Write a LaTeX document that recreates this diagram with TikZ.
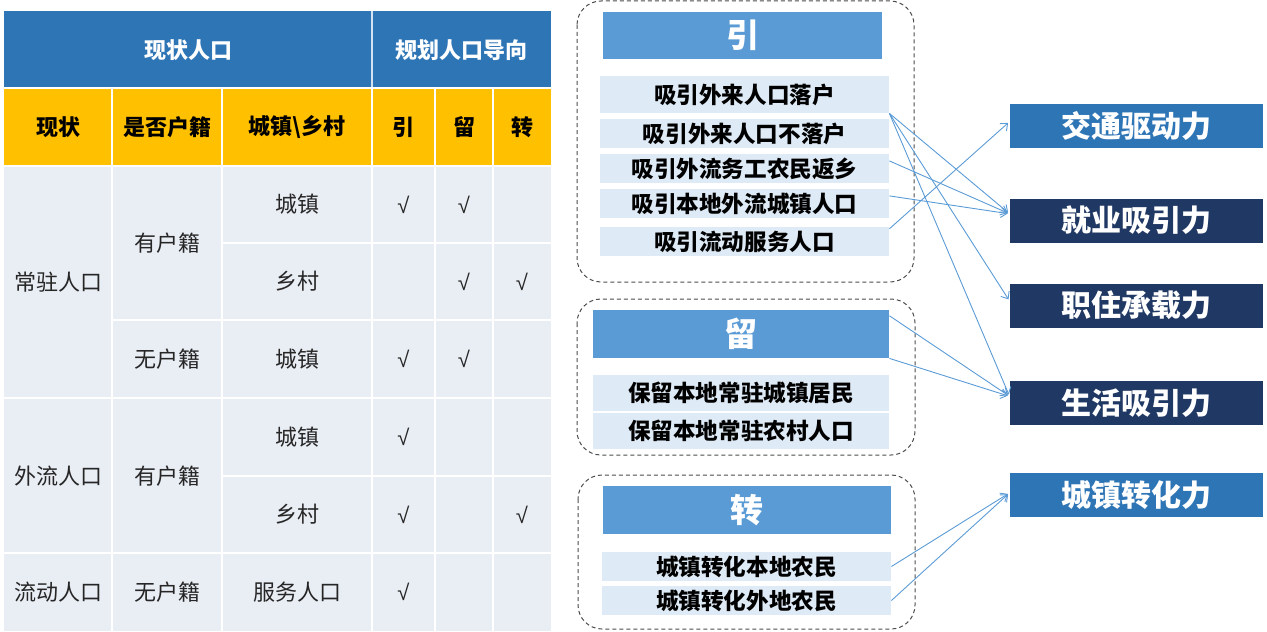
\documentclass[tikz,border=0pt]{standalone}
\usepackage{fontspec}
\setmainfont{Noto Sans CJK SC}
\newfontfamily\tickfont{Liberation Sans}
\usetikzlibrary{arrows.meta}
\definecolor{hdrblue}{HTML}{2E75B6}
\definecolor{hdryellow}{HTML}{FFC000}
\definecolor{cellgray}{HTML}{E9EDF4}
\definecolor{titleblue}{HTML}{5B9BD5}
\definecolor{itemblue}{HTML}{DEEAF6}
\definecolor{navy}{HTML}{203864}
\definecolor{linkblue}{HTML}{5B9BD5}
\tikzset{
  cell/.style={font=\fontsize{11}{13}\selectfont, text=black!85},
  headcell/.style={font=\fontsize{11}{13}\selectfont\bfseries},
  groupbox/.style={draw=black!70, line width=0.5pt, dash pattern=on 2pt off 1.5pt, rounded corners=12pt},
  titlebox/.style={fill=titleblue, text=white, font=\fontsize{16.5}{18}\selectfont\bfseries, inner sep=0pt},
  itembox/.style={fill=itemblue, text=black, font=\fontsize{11.3}{13}\selectfont\bfseries, inner sep=0pt, minimum height=14.5pt},
  forcebox/.style={text=white, font=\fontsize{15}{17}\selectfont\bfseries, inner sep=0pt, minimum width=126.5pt, minimum height=22pt},
  link/.style={draw=linkblue, line width=0.45pt, -{Straight Barb[length=3pt,width=5pt]}, shorten >=1pt}
}
\begin{document}
\begin{tikzpicture}[x=0.5pt, y=-0.5pt]
  \useasboundingbox (0,0) rectangle (1267,631);
  \fill[hdrblue] (4,11) rectangle (551,88);
  \fill[hdryellow] (4,88) rectangle (551,166);
  \fill[cellgray] (4,166) rectangle (551,631);
  \draw[white!80!hdrblue, line width=0.6pt] (372,11) -- (372,88);
  \draw[white, line width=0.6pt] (4,88) -- (551,88);
  \foreach \x in {112,222,372,435,493}
    \draw[white, line width=0.7pt] (\x,88) -- (\x,631);
  \foreach \y/\xa in {166/4, 243/222, 320/112, 398/4, 476/222, 553/4}
    \draw[white, line width=0.7pt] (\xa,\y) -- (551,\y);
  \node[headcell, text=white] (hpop) at (188,50) {现状人口};
  \node[headcell, text=white] (hplan) at (461.5,50) {规划人口导向};
  \foreach \x/\lab/\nm in {58/现状/hs, 167/是否户籍/hh, 297/{城镇\textbackslash 乡村}/hc, 403.5/引/hy, 464/留/hl, 522/转/hz}
    \node[headcell] (\nm) at (\x,127) {\lab};
  \node[cell] (p1) at (58,282) {常驻人口};
  \node[cell] (p2) at (58,476) {外流人口};
  \node[cell] (p3) at (58,592) {流动人口};
  \foreach \y/\lab [count=\i] in {243/有户籍, 359/无户籍, 476/有户籍, 592/无户籍}
    \node[cell] (reg\i) at (167,\y) {\lab};
  \foreach \y/\lab [count=\i] in {204.5/城镇, 281.5/乡村, 359/城镇, 437/城镇, 514.5/乡村, 592/服务人口}
    \node[cell] (area\i) at (297,\y) {\lab};
  \foreach \x/\y [count=\i] in {403.5/204.5, 464/204.5, 464/281.5, 522/281.5, 403.5/359, 464/359,
                               403.5/437, 403.5/514.5, 522/514.5, 403.5/592}
    \node[cell, font=\tickfont\fontsize{11}{13}\selectfont] (chk\i) at (\x,\y) {√};

  \draw[groupbox] (577,1) rectangle (914,282);
  \node[titlebox, minimum width=139.5pt, minimum height=23.5pt] (yin) at (742.5,35.5) {引};
  \node[itembox, minimum width=144.5pt, minimum height=18.5pt] (yin1) at (744.5,94.5) {吸引外来人口落户};
  \foreach \y/\lab [count=\i from 2] in {133.5/吸引外来人口不落户, 168.5/吸引外流务工农民返乡,
                                         203.5/吸引本地外流城镇人口, 241.5/吸引流动服务人口}
    \node[itembox, minimum width=144.5pt] (yin\i) at (744.5,\y) {\lab};

  \draw[groupbox] (577,299) rectangle (915,455);
  \node[titlebox, minimum width=148pt, minimum height=24pt] (liu) at (741,334) {留};
  \node[itembox, minimum width=148pt, minimum height=18pt] (liu1) at (741,393) {保留本地常驻城镇居民};
  \node[itembox, minimum width=148pt, minimum height=18pt] (liu2) at (741,431) {保留本地常驻农村人口};

  \draw[groupbox] (578,475) rectangle (915,629);
  \node[titlebox, minimum width=144pt, minimum height=24pt] (zhuan) at (747,510) {转};
  \node[itembox, minimum width=144.5pt] (zhuan1) at (746.5,566.5) {城镇转化本地农民};
  \node[itembox, minimum width=144.5pt] (zhuan2) at (746.5,600.5) {城镇转化外地农民};

  \node[forcebox, fill=hdrblue] (jt) at (1136.5,126) {交通驱动力};
  \node[forcebox, fill=navy] (jy) at (1136.5,220.5) {就业吸引力};
  \node[forcebox, fill=navy] (zz) at (1136.5,305.5) {职住承载力};
  \node[forcebox, fill=navy] (sh) at (1136.5,403) {生活吸引力};
  \node[forcebox, fill=hdrblue] (cz) at (1136.5,495) {城镇转化力};

  \draw[link] (yin1.south east) -- (jy.177);
  \draw[link] (yin1.south east) -- (zz.178);
  \draw[link] (yin1.south east) -- (sh.177);
  \draw[link] (yin3.3) -- (jy.177);
  \draw[link] (yin4.3) -- (jy.177);
  \draw[link] (yin5.5) -- (jt.178);
  \draw[link] (liu.7) -- (sh.177);
  \draw[link] (liu.south east) -- (sh.177);
  \draw[link] (zhuan1.east) -- (cz.179);
  \draw[link] (zhuan2.east) -- (cz.179);
\end{tikzpicture}
\end{document}
